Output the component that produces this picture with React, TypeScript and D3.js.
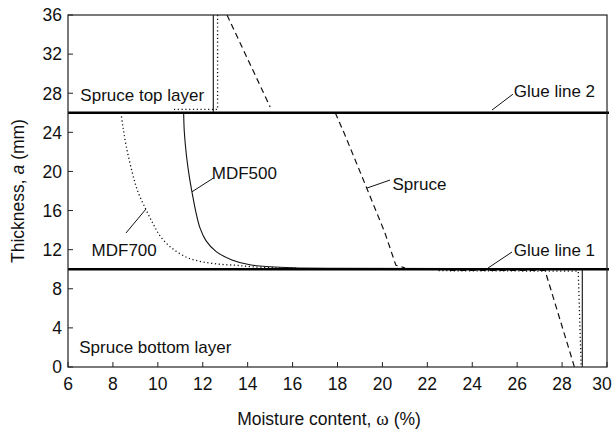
import React from "react";
import * as d3 from "d3";

type P = [number, number];

const xTicks = [6, 8, 10, 12, 14, 16, 18, 20, 22, 24, 26, 28, 30];
const yTicks = [0, 4, 8, 12, 16, 20, 24, 28, 32, 36];
const glueLines = [26, 10];

// MDF500 (solid)
const mdf500Top: P[] = [[12.47, 36], [12.47, 26.1]];
const mdf500Mid: P[] = [
  [11.15, 26], [11.18, 24], [11.28, 21.5], [11.4, 19.5], [11.52, 17.9], [11.68, 16],
  [11.88, 14.2], [12.15, 12.9], [12.6, 11.8], [13.3, 10.95], [14.1, 10.45],
  [15, 10.25], [16, 10.15], [18, 10.1], [28.9, 10.05],
];
const mdf500Bot: P[] = [[28.9, 10], [28.9, 0]];

// MDF700 (dotted)
const mdf700Top: P[] = [[12.66, 36], [12.66, 26.35], [10.6, 26.35]];
const mdf700Mid: P[] = [
  [8.36, 26], [8.45, 24.5], [8.6, 22.5], [8.85, 20], [9.1, 18], [9.45, 16.2],
  [9.8, 14.6], [10.1, 13.4], [10.6, 12.2], [11.3, 11.2], [12, 10.75], [12.8, 10.5],
  [13.5, 10.4], [14.2, 10.25], [15.2, 10.15], [16.2, 10.1],
];
const mdf700Bot: P[] = [[22.5, 9.85], [28.72, 9.8], [28.85, 0]];

// Spruce (dashed)
const spruceTop: P[] = [[13.08, 36], [15.0, 26.6]];
const spruceMid: P[] = [[17.9, 26], [18.3, 23.9], [19.3, 18.3], [20.1, 13.8], [20.6, 10.4], [21, 10.15]];
const spruceBot: P[] = [[23, 9.88], [27.24, 9.88], [28.55, 0]];

const labels: { text: string; x: number; y: number }[] = [
  { text: "Spruce top layer", x: 6.55, y: 27.2 },
  { text: "Spruce bottom layer", x: 6.5, y: 1.4 },
  { text: "MDF500", x: 12.4, y: 19.2 },
  { text: "MDF700", x: 7.05, y: 11.35 },
  { text: "Spruce", x: 20.45, y: 18.1 },
  { text: "Glue line 2", x: 25.85, y: 27.6 },
  { text: "Glue line 1", x: 25.85, y: 11.4 },
];
const leaders: [P, P][] = [
  [[12.48, 19.33], [11.52, 17.92]],
  [[8.58, 13.7], [9.47, 16.15]],
  [[19.31, 18.3], [20.34, 19.12]],
  [[24.88, 26.28], [25.81, 27.9]],
  [[24.7, 10.12], [25.77, 11.76]],
];

const W = 615;
const H = 433;
const x = d3.scaleLinear().domain([6, 30]).range([68, 607]);
const y = d3.scaleLinear().domain([0, 36]).range([367, 15]);
const line = d3
  .line<P>()
  .x((d) => x(d[0]))
  .y((d) => y(d[1]));
const smooth = d3
  .line<P>()
  .x((d) => x(d[0]))
  .y((d) => y(d[1]))
  .curve(d3.curveCatmullRom.alpha(0.5));

const FONT = "'Liberation Sans', Arial, Helvetica, sans-serif";

export default function App() {
  const solid = { fill: "none", stroke: "#111", strokeWidth: 1.1 };
  const dotted = { fill: "none", stroke: "#111", strokeWidth: 1.3, strokeDasharray: "1.2 2.6" };
  const dashed = { fill: "none", stroke: "#111", strokeWidth: 1.2, strokeDasharray: "6 4" };
  return (
    <svg
      width={W}
      height={H}
      style={{ position: "absolute", left: 0, top: 0, background: "#fff" }}
      fontFamily={FONT}
    >
      <defs>
        <clipPath id="plot">
          <rect x={68} y={15} width={539} height={352} />
        </clipPath>
      </defs>
      <g clipPath="url(#plot)">
        <path d={line(mdf500Top) || ""} {...solid} />
        <path d={smooth(mdf500Mid) || ""} {...solid} />
        <path d={line(mdf500Bot) || ""} {...solid} />
        <path d={line(mdf700Top) || ""} {...dotted} />
        <path d={smooth(mdf700Mid) || ""} {...dotted} />
        <path d={line(mdf700Bot) || ""} {...dotted} />
        {[spruceTop, spruceMid, spruceBot].map((d, i) => (
          <path key={"p" + i} d={line(d) || ""} {...dashed} />
        ))}
      </g>
      {glueLines.map((g) => (
        <line key={g} x1={x(6)} x2={x(30) + 2} y1={y(g)} y2={y(g)} stroke="#000" strokeWidth={2.5} />
      ))}
      {leaders.map((l, i) => (
        <line
          key={"l" + i}
          x1={x(l[0][0])}
          y1={y(l[0][1])}
          x2={x(l[1][0])}
          y2={y(l[1][1])}
          stroke="#111"
          strokeWidth={1}
        />
      ))}
      <rect x={68} y={15} width={539} height={352} fill="none" stroke="#222" strokeWidth={1.2} />
      {xTicks.map((t) => (
        <g key={"xt" + t}>
          <line x1={x(t)} x2={x(t)} y1={367} y2={362} stroke="#222" strokeWidth={1} />
          <text x={Math.min(x(t), 602)} y={390} fontSize={17.5} textAnchor="middle" fill="#111">
            {t}
          </text>
        </g>
      ))}
      {yTicks.map((t) => (
        <g key={"yt" + t}>
          <line x1={68} x2={73} y1={y(t)} y2={y(t)} stroke="#222" strokeWidth={1} />
          <text x={62} y={y(t) + 6.3} fontSize={17.5} textAnchor="end" fill="#111">
            {t}
          </text>
        </g>
      ))}
      {labels.map((l, i) => (
        <text key={"t" + i} x={x(l.x)} y={y(l.y)} fontSize={17} fill="#111">
          {l.text}
        </text>
      ))}
      <text x={329} y={425} fontSize={17.5} textAnchor="middle" fill="#111">
        Moisture content, <tspan fontFamily="'Liberation Serif', 'Times New Roman', serif" fontSize={19}>ω</tspan> (%)
      </text>
      <text
        transform={`translate(24, ${(15 + 367) / 2}) rotate(-90)`}
        fontSize={17.5}
        textAnchor="middle"
        fill="#111"
      >
        Thickness, <tspan fontStyle="italic">a</tspan> (mm)
      </text>
    </svg>
  );
}
